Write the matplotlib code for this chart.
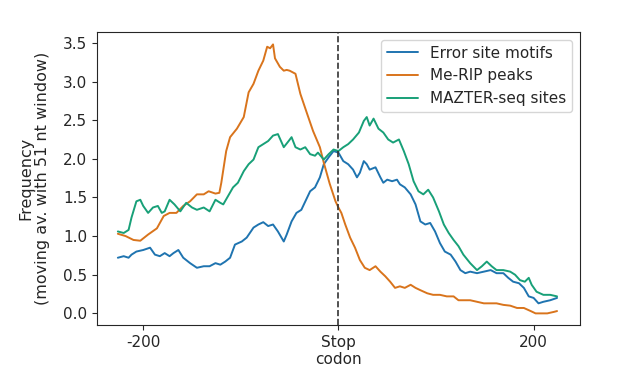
import matplotlib
matplotlib.use("Agg")
import matplotlib.pyplot as plt
import seaborn as sns

sns.set_style("ticks")
plt.rcParams["font.family"] = ["DejaVu Sans"]

# --- data (position relative to stop codon, nt) ---
error_x = [-226, -220, -215, -212, -207, -200, -193, -188, -183, -178, -173, -169, -164,
           -159, -152, -145, -138, -132, -126, -121, -116, -111, -106, -99, -94, -87, -82,
           -77, -72, -67, -62, -56, -53, -48, -43, -38, -32, -29, -24, -19, -15, -10, -5,
           0, 5, 10, 15, 19, 22, 26, 29, 32, 38, 43, 46, 50, 55, 60, 63, 68, 74, 79, 84,
           89, 94, 99, 104, 109, 115, 120, 125, 130, 135, 142, 149, 156, 162, 169, 174,
           179, 185, 190, 195, 200, 205, 210, 217, 224]
error_y = [0.72, 0.74, 0.72, 0.76, 0.80, 0.82, 0.85, 0.76, 0.74, 0.78, 0.74, 0.78, 0.82,
           0.72, 0.65, 0.59, 0.61, 0.61, 0.65, 0.63, 0.67, 0.72, 0.89, 0.93, 0.98, 1.11, 1.15,
           1.18, 1.13, 1.15, 1.06, 0.93, 1.02, 1.19, 1.30, 1.34, 1.50, 1.58, 1.63, 1.76, 1.93,
           2.02, 2.10, 2.08, 1.97, 1.93, 1.86, 1.76, 1.82, 1.97, 1.93, 1.86, 1.89, 1.76, 1.69,
           1.73, 1.71, 1.73, 1.67, 1.63, 1.54, 1.41, 1.19, 1.15, 1.17, 1.06, 0.91, 0.80, 0.76,
           0.67, 0.56, 0.52, 0.54, 0.52, 0.54, 0.56, 0.52, 0.52, 0.46, 0.41, 0.39, 0.33, 0.22,
           0.20, 0.13, 0.15, 0.17, 0.20]

merip_x = [-226, -218, -210, -203, -195, -186, -179, -173, -166, -159, -152, -145, -138,
           -133, -126, -122, -120, -115, -111, -104, -97, -92, -87, -82, -77, -73, -70, -67,
           -65, -60, -56, -53, -50, -44, -39, -32, -26, -19, -15, -9, -3, 0, 3, 7, 12, 17,
           22, 27, 32, 38, 43, 48, 53, 58, 63, 68, 74, 79, 84, 91, 97, 104, 111, 118, 123,
           128, 135, 142, 149, 156, 162, 169, 176, 183, 190, 197, 202, 207, 214, 221, 224]
merip_y = [1.03, 1.00, 0.95, 0.94, 1.02, 1.10, 1.26, 1.30, 1.30, 1.39, 1.45, 1.54, 1.54,
           1.58, 1.55, 1.56, 1.69, 2.10, 2.28, 2.39, 2.54, 2.86, 2.97, 3.14, 3.27, 3.45, 3.43,
           3.48, 3.30, 3.19, 3.14, 3.15, 3.14, 3.10, 2.84, 2.58, 2.36, 2.15, 1.95, 1.68, 1.45,
           1.37, 1.30, 1.15, 0.98, 0.85, 0.69, 0.59, 0.56, 0.61, 0.54, 0.48, 0.41, 0.33, 0.35,
           0.33, 0.37, 0.33, 0.30, 0.26, 0.24, 0.24, 0.22, 0.22, 0.17, 0.17, 0.17, 0.15, 0.13,
           0.13, 0.13, 0.11, 0.10, 0.07, 0.07, 0.03, 0.00, 0.00, 0.00, 0.02, 0.03]

mazter_x = [-226, -220, -215, -212, -207, -203, -200, -195, -190, -185, -181, -178, -173,
            -168, -162, -156, -150, -145, -138, -132, -126, -121, -118, -113, -108, -103,
            -97, -92, -87, -82, -77, -72, -67, -62, -56, -51, -48, -44, -39, -34, -29, -24,
            -21, -15, -10, -5, 0, 5, 10, 15, 21, 26, 29, 32, 36, 41, 46, 51, 56, 62, 67, 72,
            77, 82, 87, 92, 97, 103, 108, 113, 118, 123, 128, 135, 142, 147, 152, 157, 162,
            169, 176, 181, 186, 191, 195, 198, 203, 210, 217, 224]
mazter_y = [1.06, 1.04, 1.08, 1.24, 1.45, 1.47, 1.39, 1.30, 1.37, 1.39, 1.30, 1.32, 1.47,
            1.41, 1.32, 1.43, 1.37, 1.34, 1.37, 1.32, 1.47, 1.43, 1.41, 1.52, 1.63, 1.69,
            1.84, 1.93, 1.99, 2.15, 2.19, 2.23, 2.30, 2.32, 2.15, 2.23, 2.28, 2.15, 2.12, 2.15,
            2.06, 2.04, 2.08, 1.99, 2.06, 2.12, 2.10, 2.15, 2.19, 2.25, 2.34, 2.49, 2.54, 2.43,
            2.52, 2.39, 2.34, 2.25, 2.21, 2.25, 2.10, 1.93, 1.71, 1.58, 1.54, 1.60, 1.50, 1.32,
            1.15, 1.04, 0.95, 0.87, 0.76, 0.65, 0.56, 0.61, 0.67, 0.61, 0.56, 0.56, 0.54, 0.50,
            0.43, 0.41, 0.46, 0.37, 0.28, 0.24, 0.24, 0.22]

x_ticks = [-200, 0, 200]
x_tick_labels = ["-200", "Stop\ncodon", "200"]

colors = {"error": "#1f74b0", "merip": "#d9741c", "mazter": "#18a078"}

fig = plt.figure(figsize=(6.17, 3.77), dpi=100)
ax = fig.add_axes([0.157, 0.138, 0.783, 0.777])

ax.plot(error_x, error_y, color=colors["error"], lw=1.4, label="Error site motifs")
ax.plot(merip_x, merip_y, color=colors["merip"], lw=1.4, label="Me-RIP peaks")
ax.plot(mazter_x, mazter_y, color=colors["mazter"], lw=1.4, label="MAZTER-seq sites")
ax.axvline(0, color="#333333", ls="--", lw=1.2)

ax.set_xlim(-247.5, 247.5)
ax.set_ylim(-0.15, 3.64)
ax.set_yticks([0.0, 0.5, 1.0, 1.5, 2.0, 2.5, 3.0, 3.5])
ax.set_xticks(x_ticks)
ax.set_xticklabels(x_tick_labels)
ax.tick_params(labelsize=11)
ax.set_ylabel("Frequency\n(moving av. with 51 nt window)", fontsize=11.5, labelpad=9)
ax.legend(loc="upper right", fontsize=11)

fig.savefig("out.png", dpi=100)
